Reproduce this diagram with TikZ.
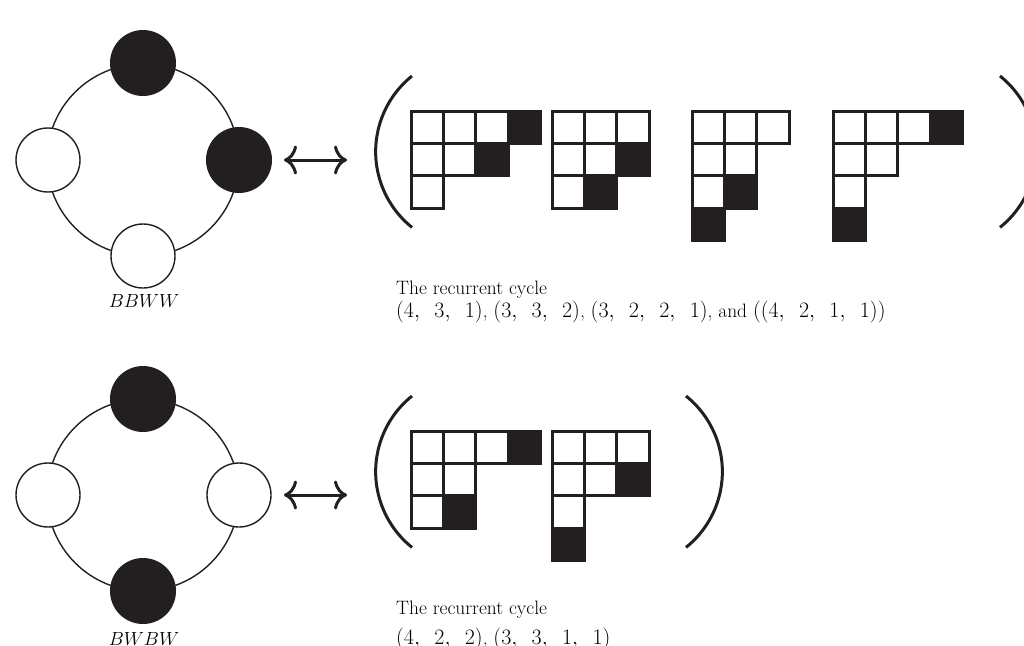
\RequirePackage{fix-cm}
\documentclass[tikz,border=0pt]{standalone}
\usepackage{fontspec}
\usetikzlibrary{arrows.meta}
\definecolor{ink}{RGB}{35,31,32}
\newcommand{\tsep}{,\hspace{10.7pt}}
\newcommand{\tup}[1]{{\fontsize{22}{24}\selectfont$#1$}}
\tikzset{
  ring/.style={circle, draw=ink, line width=1.4pt, minimum size=192pt, inner sep=0pt},
  wdot/.style={circle, draw=ink, fill=white, line width=1.4pt, minimum size=64pt, inner sep=0pt},
  bdot/.style={circle, fill=ink, minimum size=66pt, inner sep=0pt},
  lbl/.style={inner sep=0pt, anchor=base, font=\fontsize{19}{22}\selectfont},
  caption/.style={inner sep=0pt, anchor=base west, font=\fontsize{19.4}{24}\selectfont},
  bigarrow/.style={line width=3pt, draw=ink, {Computer Modern Rightarrow[length=13pt,width=29pt,line width=3pt]}-{Computer Modern Rightarrow[length=13pt,width=29pt,line width=3pt]}},
  paren/.style={line width=3pt, draw=ink},
  wcell/.style={draw=ink, line width=3pt, fill=white},
  bcell/.style={draw=ink, line width=3pt, fill=ink}
}
% \young{x0}{y0}{white cells c/r}{black cells c/r}
\newcommand{\young}[4]{%
  \foreach \c/\r in {#3} {\draw[wcell] ({#1+\c*32.4},{#2+\r*32.4}) rectangle ++(32.4,32.4);}
  \foreach \c/\r in {#4} {\draw[bcell] ({#1+\c*32.4},{#2+\r*32.4}) rectangle ++(32.4,32.4);}
}
\begin{document}
\begin{tikzpicture}[x=1pt,y=-1pt]
\useasboundingbox (0,0) rectangle (1024,645);
% ---------- top ----------
\node[ring] (ringA) at (143,160) {};
\node[bdot] (a1) at (143,63) {};
\node[bdot] (a2) at (239,160) {};
\node[wdot] (a3) at (143,256) {};
\node[wdot] (a4) at (48,160) {};
\node[lbl] (labA) at (144,307) {$BBWW$};
\coordinate (arAl) at (284,160);
\coordinate (arAr) at (347,160);
\draw[bigarrow] (arAl) -- (arAr);
\draw[paren] (412,76) arc[start angle=231.3, end angle=128.7, radius=97];
\draw[paren] (1000,76) arc[start angle=-51.3, end angle=51.3, radius=97];
\young{411}{111}{0/0,1/0,2/0,0/1,1/1,0/2}{3/0,2/1}
\young{552}{111}{0/0,1/0,2/0,0/1,1/1,0/2}{2/1,1/2}
\young{692}{111}{0/0,1/0,2/0,0/1,1/1,0/2}{1/2,0/3}
\young{833}{111}{0/0,1/0,2/0,0/1,1/1,0/2}{3/0,0/3}
\node[caption] (capA1) at (396,294) {The recurrent cycle};
\node[caption] (capA2) at (396,317) {\tup{(4\tsep 3\tsep 1)}, \tup{(3\tsep 3\tsep 2)}, \tup{(3\tsep 2\tsep 2\tsep 1)}, and \tup{((4\tsep 2\tsep 1\tsep 1))}};
% ---------- bottom ----------
\node[ring] (ringB) at (143,495) {};
\node[bdot] (b1) at (143,399) {};
\node[wdot] (b2) at (239,495) {};
\node[bdot] (b3) at (143,591) {};
\node[wdot] (b4) at (48,495) {};
\node[lbl] (labB) at (144,645) {$BWBW$};
\coordinate (arBl) at (284,495);
\coordinate (arBr) at (347,495);
\draw[bigarrow] (arBl) -- (arBr);
\draw[paren] (412,396) arc[start angle=231.3, end angle=128.7, radius=97];
\draw[paren] (686,396) arc[start angle=-51.3, end angle=51.3, radius=97];
\young{411}{431}{0/0,1/0,2/0,0/1,1/1,0/2}{3/0,1/2}
\young{552}{431}{0/0,1/0,2/0,0/1,1/1,0/2}{2/1,0/3}
\node[caption] (capB1) at (396,614) {The recurrent cycle};
\node[caption] (capB2) at (396,644) {\tup{(4\tsep 2\tsep 2)}, \tup{(3\tsep 3\tsep 1\tsep 1)}};
\end{tikzpicture}
\end{document}
